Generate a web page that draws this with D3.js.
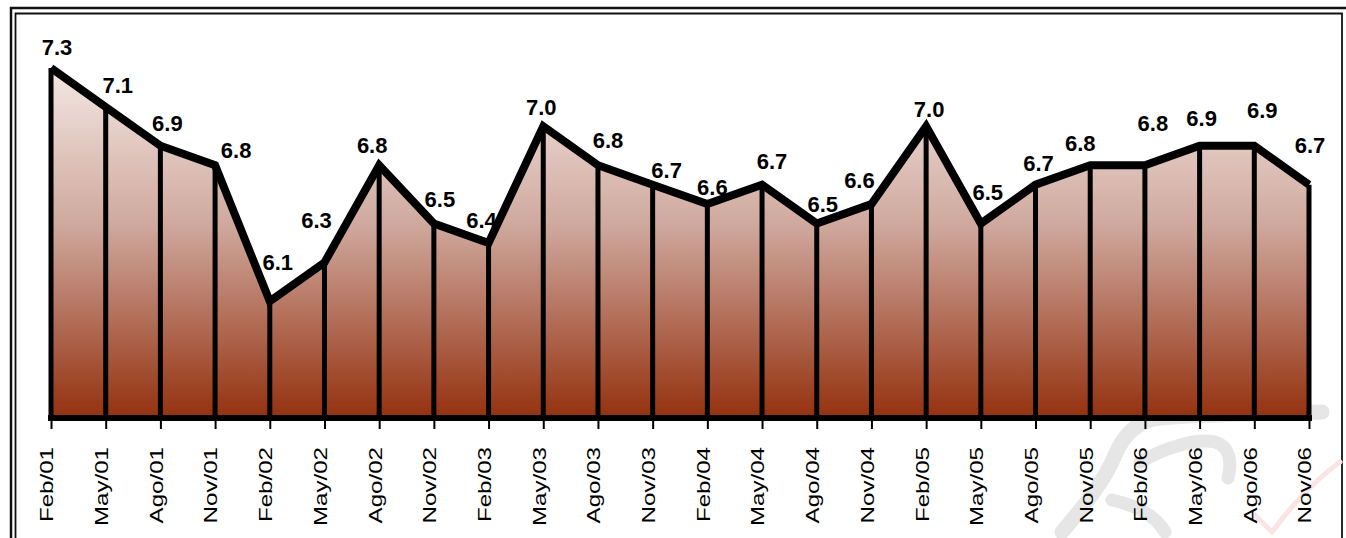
<!DOCTYPE html>
<html>
<head>
<meta charset="utf-8">
<script src="https://cdn.jsdelivr.net/npm/d3@7"></script>
<style>
  body { margin: 0; background: #fff; }
  svg { display: block; }
</style>
</head>
<body>
<div class="container"></div>
<script>
var periods = ['Feb/01', 'May/01', 'Ago/01', 'Nov/01', 'Feb/02', 'May/02', 'Ago/02', 'Nov/02',
    'Feb/03', 'May/03', 'Ago/03', 'Nov/03', 'Feb/04', 'May/04', 'Ago/04', 'Nov/04',
    'Feb/05', 'May/05', 'Ago/05', 'Nov/05', 'Feb/06', 'May/06', 'Ago/06', 'Nov/06'];
var values = [7.3, 7.1, 6.9, 6.8, 6.1, 6.3, 6.8, 6.5, 6.4, 7.0, 6.8, 6.7,
    6.6, 6.7, 6.5, 6.6, 7.0, 6.5, 6.7, 6.8, 6.8, 6.9, 6.9, 6.7];
var yDomain = [5.5, 7.3];

// hand placed data labels, shift from each point (px)
var labelDx = [6, 12, 7, 21, 8, -8, -7, 6, -7, -2, 10, 14, 5, 10, 6, -12, 3, 7, 3, -10, 8, 2, 8, 1];
var labelDy = [-21, -22, -23, -15, -39, -42, -20, -24, -23, -19, -25, -15, -17, -24, -19, -24,
    -17, -31, -22, -22, -42, -28, -36, -40];

var drawChart = function () {
    const WIDTH = 1346;
    const HEIGHT = 538;
    var left = 51, right = 1309, top = 68, bottom = 418;

    var data = periods.map(function (p, i) {
        return { period: p, value: values[i], dx: labelDx[i], dy: labelDy[i] };
    });

    var svg = d3.select('.container')
        .append('svg')
        .attr('width', WIDTH)
        .attr('height', HEIGHT);

    var grad = svg.append('defs').append('linearGradient')
        .attr('id', 'fillGrad')
        .attr('gradientUnits', 'userSpaceOnUse')
        .attr('x1', 0).attr('y1', top)
        .attr('x2', 0).attr('y2', bottom);
    grad.append('stop').attr('offset', '0%').attr('stop-color', '#f3e7e3');
    grad.append('stop').attr('offset', '45%').attr('stop-color', '#cfa89d');
    grad.append('stop').attr('offset', '100%').attr('stop-color', '#94310f');

    // frame
    svg.append('path')
        .attr('d', 'M11,' + HEIGHT + ' V8 H' + (WIDTH + 5))
        .style('fill', 'none').style('stroke', '#111').style('stroke-width', 2.5);
    svg.append('path')
        .attr('d', 'M15.5,' + HEIGHT + ' V13.5 H1342 V' + HEIGHT)
        .style('fill', 'none').style('stroke', '#111').style('stroke-width', 1.8);

    // faint logo watermark, bottom right
    var wm = svg.append('g').style('fill', 'none').style('stroke-linecap', 'round')
        .style('stroke-linejoin', 'round');
    wm.append('path')
        .attr('d', 'M1062,532 C1085,505 1105,480 1115,455 C1125,432 1140,420 1160,418 C1200,414 1270,414 1322,412')
        .style('stroke', '#e6e6e6').style('stroke-width', 15);
    wm.append('path')
        .attr('d', 'M1140,462 C1165,448 1195,438 1215,442 C1230,446 1232,462 1228,478')
        .style('stroke', '#e6e6e6').style('stroke-width', 13);
    wm.append('path')
        .attr('d', 'M1112,500 C1135,505 1155,515 1165,532')
        .style('stroke', '#e6e6e6').style('stroke-width', 13);
    wm.append('path')
        .attr('d', 'M1255,515 L1272,532 C1292,505 1315,480 1340,462')
        .style('stroke', '#fbe4e4').style('stroke-width', 5);

    var x = d3.scalePoint()
        .domain(periods)
        .range([left, right]);

    var y = d3.scaleLinear()
        .domain(yDomain)
        .range([bottom, top]);

    var area = d3.area()
        .x(function (d) { return x(d.period); })
        .y0(y(yDomain[0]))
        .y1(function (d) { return y(d.value); });

    var line = d3.line()
        .x(function (d) { return x(d.period); })
        .y(function (d) { return y(d.value); });

    svg.append('path')
        .datum(data)
        .attr('d', area)
        .style('fill', 'url(#fillGrad)');

    // drop lines
    svg.append('g')
        .selectAll('line')
        .data(data)
        .enter()
        .append('line')
        .attr('x1', function (d) { return x(d.period); })
        .attr('x2', function (d) { return x(d.period); })
        .attr('y1', function (d) { return y(d.value); })
        .attr('y2', y(yDomain[0]))
        .style('stroke', '#000')
        .style('stroke-width', 5);

    // axis
    var axis = svg.append('g')
        .attr('transform', 'translate(0,' + bottom + ')')
        .call(d3.axisBottom(x).tickSize(11).tickSizeOuter(0));
    axis.select('.domain').remove();
    axis.selectAll('.tick line').style('stroke', '#000').style('stroke-width', 2);
    axis.selectAll('.tick text')
        .attr('x', 0).attr('y', 0).attr('dy', '0.1em')
        .attr('transform', 'translate(0,29) rotate(-90) scale(1.27,1)')
        .style('text-anchor', 'end')
        .style('font-family', '"Liberation Sans", Arial, sans-serif')
        .style('font-size', '19px')
        .style('fill', '#000');

    svg.append('line')
        .attr('x1', left - 3).attr('x2', right + 3)
        .attr('y1', y(yDomain[0])).attr('y2', y(yDomain[0]))
        .style('stroke', '#000').style('stroke-width', 6);

    svg.append('path')
        .datum(data)
        .attr('d', line)
        .style('fill', 'none')
        .style('stroke', '#000')
        .style('stroke-width', 8)
        .style('stroke-linejoin', 'miter');

    // value labels
    svg.append('g')
        .selectAll('text')
        .data(data)
        .enter()
        .append('text')
        .attr('x', function (d) { return x(d.period) + d.dx; })
        .attr('y', function (d) { return y(d.value) + d.dy; })
        .attr('dy', '0.36em')
        .attr('text-anchor', 'middle')
        .style('font-family', '"Liberation Sans", Arial, sans-serif')
        .style('font-weight', 'bold')
        .style('font-size', '22px')
        .style('fill', '#000')
        .text(function (d) { return d.value.toFixed(1); });
};
window.onload = drawChart;
</script>
</body>
</html>
